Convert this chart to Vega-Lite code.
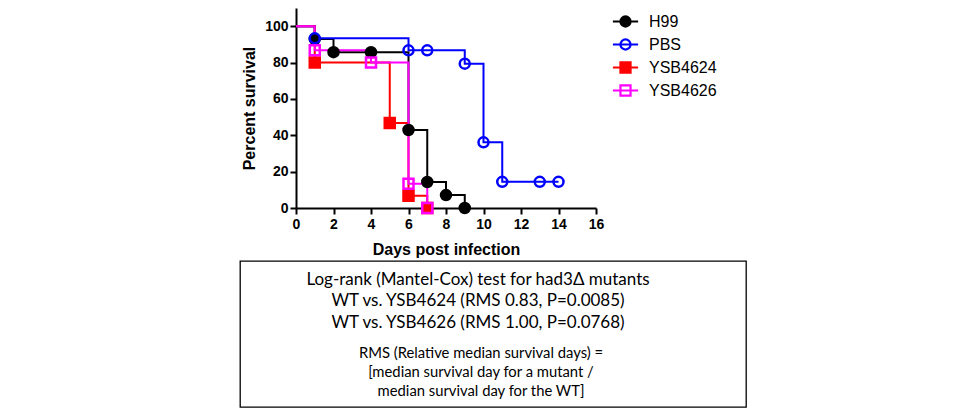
{
  "$schema": "https://vega.github.io/schema/vega-lite/v6.json",
  "background": "white",
  "padding": {"left": 239, "top": 8, "right": 0, "bottom": 0},
  "config": {"view": {"stroke": null}, "font": "Liberation Sans"},
  "spacing": 3,
  "resolve": {"scale": {"color": "independent", "fill": "independent"}, "legend": {"color": "independent", "fill": "independent"}},
  "vconcat": [
    {
      "spacing": 0,
      "hconcat": [
        {
          "width": 1,
          "height": 1,
          "data": {"values": []},
          "mark": "point"
        },
        {
          "width": 300,
          "height": 200,
          "data": {
            "values": [
              {"group": "H99", "day": 0, "pct": 100, "m": 0},
              {"group": "H99", "day": 1, "pct": 92.9, "m": 1},
              {"group": "H99", "day": 2, "pct": 85.7, "m": 1},
              {"group": "H99", "day": 4, "pct": 85.7, "m": 1},
              {"group": "H99", "day": 6, "pct": 42.9, "m": 1},
              {"group": "H99", "day": 7, "pct": 14.3, "m": 1},
              {"group": "H99", "day": 8, "pct": 7.1, "m": 1},
              {"group": "H99", "day": 9, "pct": 0, "m": 1},
              {"group": "PBS", "day": 0, "pct": 100, "m": 0},
              {"group": "PBS", "day": 1, "pct": 93.3, "m": 1},
              {"group": "PBS", "day": 6, "pct": 86.7, "m": 1},
              {"group": "PBS", "day": 7, "pct": 86.7, "m": 1},
              {"group": "PBS", "day": 9, "pct": 79.4, "m": 1},
              {"group": "PBS", "day": 10, "pct": 36.1, "m": 1},
              {"group": "PBS", "day": 11, "pct": 14.4, "m": 1},
              {"group": "PBS", "day": 13, "pct": 14.4, "m": 1},
              {"group": "PBS", "day": 14, "pct": 14.4, "m": 1},
              {"group": "YSB4624", "day": 0, "pct": 100, "m": 0},
              {"group": "YSB4624", "day": 1, "pct": 80, "m": 1},
              {"group": "YSB4624", "day": 5, "pct": 46.7, "m": 1},
              {"group": "YSB4624", "day": 6, "pct": 6.7, "m": 1},
              {"group": "YSB4624", "day": 7, "pct": 0, "m": 1},
              {"group": "YSB4626", "day": 0, "pct": 100, "m": 0},
              {"group": "YSB4626", "day": 1, "pct": 86.7, "m": 1},
              {"group": "YSB4626", "day": 4, "pct": 80, "m": 1},
              {"group": "YSB4626", "day": 6, "pct": 13.3, "m": 1},
              {"group": "YSB4626", "day": 7, "pct": 0, "m": 1}
            ]
          },
          "encoding": {
            "x": {
              "field": "day", "type": "quantitative",
              "scale": {"domain": [0, 16], "nice": false},
              "axis": {
                "values": [0, 2, 4, 6, 8, 10, 12, 14, 16],
                "title": "Days post infection",
                "grid": false, "labelFlush": false,
                "domainColor": "black", "domainWidth": 2,
                "tickColor": "black", "tickWidth": 2, "tickSize": 6,
                "labelFont": "Liberation Sans", "labelFontWeight": "bold", "labelFontSize": 14, "labelColor": "black", "labelPadding": 3,
                "titleFont": "Liberation Sans", "titleFontWeight": "bold", "titleFontSize": 16, "titleColor": "black", "titlePadding": 10
              }
            },
            "y": {
              "field": "pct", "type": "quantitative",
              "scale": {"domain": [0, 110], "nice": false},
              "axis": {
                "values": [0, 20, 40, 60, 80, 100],
                "title": "Percent survival",
                "grid": false,
                "domainColor": "black", "domainWidth": 2,
                "tickColor": "black", "tickWidth": 2, "tickSize": 6,
                "labelFont": "Liberation Sans", "labelFontWeight": "bold", "labelFontSize": 14, "labelColor": "black", "labelPadding": 2,
                "titleFont": "Liberation Sans", "titleFontWeight": "bold", "titleFontSize": 16, "titleColor": "black", "titlePadding": 7
              }
            },
            "color": {
              "field": "group", "type": "nominal",
              "scale": {"domain": ["H99", "PBS", "YSB4624", "YSB4626"], "range": ["#000000", "#0000ff", "#ff0000", "#ff00ff"]},
              "legend": {
                "title": null, "orient": "right", "offset": 8, "padding": 0,
                "symbolSize": 576, "rowPadding": 0,
                "labelFont": "Liberation Sans", "labelFontSize": 16, "labelColor": "black", "labelOffset": 10,
                "encode": {
                  "symbols": {
                    "update": {
                      "shape": {"signal": "(datum.value == 'H99' || datum.value == 'PBS') ? 'M-1.05,0H1.05M0.42,0A0.42,0.42,0,1,1,-0.42,0A0.42,0.42,0,1,1,0.42,0Z' : 'M-1.05,0H1.05M-0.42,-0.42H0.42V0.42H-0.42Z'"},
                      "fill": {"signal": "datum.value == 'H99' ? '#000000' : (datum.value == 'YSB4624' ? '#ff0000' : 'transparent')"},
                      "stroke": {"signal": "datum.value == 'H99' ? '#000000' : (datum.value == 'PBS' ? '#0000ff' : (datum.value == 'YSB4624' ? '#ff0000' : '#ff00ff'))"},
                      "strokeWidth": {"value": 2.2},
                      "opacity": {"value": 1}
                    }
                  }
                }
              }
            }
          },
          "layer": [
            {
              "mark": {"type": "line", "interpolate": "step-after", "strokeWidth": 2}
            },
            {
              "transform": [{"filter": "datum.m == 1 && (datum.group == 'H99' || datum.group == 'PBS')"}],
              "mark": {"type": "point", "shape": "circle", "filled": false, "size": 100, "strokeWidth": 2.5, "opacity": 1},
              "encoding": {
                "fill": {
                  "field": "group", "type": "nominal",
                  "scale": {"domain": ["H99", "PBS", "YSB4624", "YSB4626"], "range": ["#000000", "transparent", "#ff0000", "transparent"]},
                  "legend": null
                }
              }
            },
            {
              "transform": [{"filter": "datum.m == 1 && (datum.group == 'YSB4624' || datum.group == 'YSB4626')"}],
              "mark": {"type": "point", "shape": "square", "filled": false, "size": 100, "strokeWidth": 2.5, "opacity": 1},
              "encoding": {
                "fill": {
                  "field": "group", "type": "nominal",
                  "scale": {"domain": ["H99", "PBS", "YSB4624", "YSB4626"], "range": ["#000000", "transparent", "#ff0000", "transparent"]},
                  "legend": null
                }
              }
            }
          ]
        }
      ]
    },
    {
      "width": 506,
      "height": 146,
      "view": {"stroke": "black", "strokeWidth": 1.3},
      "data": {
        "values": [
          {"t": "Log-rank (Mantel-Cox) test for had3Δ mutants", "r": 0.91, "k": "big"},
          {"t": "WT vs. YSB4624 (RMS 0.83, P=0.0085)", "r": 1.94, "k": "big"},
          {"t": "WT vs. YSB4626 (RMS 1.00, P=0.0768)", "r": 2.95, "k": "big"},
          {"t": "RMS (Relative median survival days) =", "r": 4.46, "k": "small"},
          {"t": "[median survival day for a mutant  /", "r": 5.35, "k": "small"},
          {"t": "median survival day for the WT]", "r": 6.26, "k": "small"}
        ]
      },
      "encoding": {
        "y": {"field": "r", "type": "quantitative", "scale": {"domain": [0, 7], "reverse": true, "nice": false, "zero": false}, "axis": null},
        "text": {"field": "t", "type": "nominal"}
      },
      "layer": [
        {
          "transform": [{"filter": "datum.k == 'big'"}],
          "mark": {"type": "text", "font": "Lato", "fontSize": 17, "dx": -15, "baseline": "middle", "align": "center", "color": "black"}
        },
        {
          "transform": [{"filter": "datum.k == 'small'"}],
          "mark": {"type": "text", "font": "Lato", "fontSize": 14.8, "dx": -12, "baseline": "middle", "align": "center", "color": "black"}
        }
      ]
    }
  ]
}
